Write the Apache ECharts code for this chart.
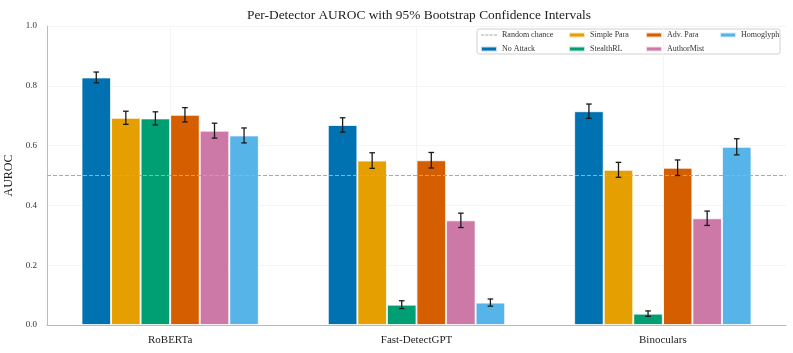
<!DOCTYPE html>
<html>
<head>
<meta charset="utf-8">
<script src="https://cdn.jsdelivr.net/npm/echarts@6/dist/echarts.min.js"></script>
<style>
  html, body { margin: 0; padding: 0; background: #fff; }
  #chart { width: 793px; height: 353px; }
</style>
</head>
<body>
<div id="chart"></div>
<script>
// detectors on the x axis
const detectors = ["RoBERTa", "Fast-DetectGPT", "Binoculars"];
const attacks = ["No Attack", "Simple Para", "StealthRL", "Adv. Para", "AuthorMist", "Homoglyph"];
const colors = ["#0072B2", "#E69F00", "#009E73", "#D55E00", "#CC79A7", "#56B4E9"];

// AUROC per attack (one value per detector)
const noAttack   = [0.828, 0.669, 0.715];
const simplePara = [0.693, 0.550, 0.519];
const stealthRL  = [0.691, 0.068, 0.038];
const advPara    = [0.703, 0.551, 0.526];
const authorMist = [0.650, 0.350, 0.357];
const homoglyph  = [0.634, 0.075, 0.596];

// 95% CI half widths
const errNoAttack   = [0.018, 0.024, 0.024];
const errSimplePara = [0.022, 0.026, 0.025];
const errStealthRL  = [0.022, 0.013, 0.009];
const errAdvPara    = [0.024, 0.026, 0.026];
const errAuthorMist = [0.025, 0.024, 0.024];
const errHomoglyph  = [0.025, 0.012, 0.027];

const randomChance = 0.5;
const yTicks = [0, 0.2, 0.4, 0.6, 0.8, 1.0];

const values = [noAttack, simplePara, stealthRL, advPara, authorMist, homoglyph];
const errs = [errNoAttack, errSimplePara, errStealthRL, errAdvPara, errAuthorMist, errHomoglyph];

const catGap = 0.28;
const font = "Liberation Serif";

let chart = echarts.init(document.getElementById("chart"));

let barSeries = attacks.map(function(name, i) {
  return {
    name: name,
    type: "bar",
    z: 2,
    barGap: "0%",
    barCategoryGap: "28%",
    itemStyle: {
      color: colors[i],
      borderColor: "rgba(255,255,255,0.75)",
      borderWidth: 1
    },
    data: values[i]
  };
});

// error bar data: [detectorIndex, attackIndex, low, high]
let errData = [];
attacks.forEach(function(a, i) {
  detectors.forEach(function(d, j) {
    errData.push([j, i, values[i][j] - errs[i][j], values[i][j] + errs[i][j]]);
  });
});

let errSeries = {
  type: "custom",
  name: "ci",
  z: 5,
  silent: true,
  encode: { x: 0, y: [2, 3] },
  data: errData,
  renderItem: function(params, api) {
    let cat = api.value(0);
    let s = api.value(1);
    let band = api.size([1, 0])[0];
    let barW = band * (1 - catGap) / attacks.length;
    let x = api.coord([cat, 0])[0] + (s - (attacks.length - 1) / 2) * barW;
    let yLo = api.coord([cat, api.value(2)])[1];
    let yHi = api.coord([cat, api.value(3)])[1];
    let cap = 2.8;
    let st = { stroke: "#1a1a1a", lineWidth: 1.3 };
    return {
      type: "group",
      children: [
        { type: "line", shape: { x1: x, y1: yLo, x2: x, y2: yHi }, style: st },
        { type: "line", shape: { x1: x - cap, y1: yLo, x2: x + cap, y2: yLo }, style: st },
        { type: "line", shape: { x1: x - cap, y1: yHi, x2: x + cap, y2: yHi }, style: st }
      ]
    };
  }
};

let chanceSeries = {
  name: "Random chance",
  type: "line",
  z: 1,
  symbol: "none",
  data: [],
  lineStyle: { color: "#aaaaaa", type: "dashed", width: 1 },
  itemStyle: { color: "#aaaaaa" },
  markLine: {
    silent: true,
    symbol: "none",
    label: { show: false },
    lineStyle: { color: "#aaaaaa", type: "dashed", width: 1 },
    data: [{ yAxis: randomChance }]
  }
};

// vertical light grid lines at category centres
let vGridSeries = {
  type: "line",
  name: "vgrid",
  z: 0,
  data: [],
  markLine: {
    silent: true,
    symbol: "none",
    label: { show: false },
    lineStyle: { color: "#f4f4f4", type: "solid", width: 1 },
    data: detectors.map(function(d) { return { xAxis: d }; })
  }
};

const dashIcon = "path://M0,0h3.2v1h-3.2zM4.3,0h3.2v1h-3.2zM8.6,0h3.2v1h-3.2zM12.9,0h3.1v1h-3.1z";

function legendCol(left, names) {
  return {
    orient: "vertical",
    left: left,
    top: 31,
    itemWidth: 16,
    itemHeight: 5,
    itemGap: 6,
    padding: 0,
    textStyle: { fontFamily: font, fontSize: 8, color: "#333" },
    data: names.map(function(n) {
      if (n === "Random chance") {
        return { name: n, icon: dashIcon, itemStyle: { color: "#aaaaaa" } };
      }
      return { name: n, icon: "rect" };
    })
  };
}

let option = {
  animation: false,
  textStyle: { fontFamily: font },
  title: {
    text: "Per-Detector AUROC with 95% Bootstrap Confidence Intervals",
    left: 414,
    textAlign: "center",
    top: 4,
    textStyle: { fontFamily: font, fontSize: 13.4, fontWeight: "normal", color: "#222" }
  },
  grid: { left: 47, right: 7, top: 26, bottom: 28, outerBoundsMode: "none", containLabel: false },
  legend: [
    legendCol(480, ["Random chance", "No Attack"]),
    legendCol(568, ["Simple Para", "StealthRL"]),
    legendCol(645, ["Adv. Para", "AuthorMist"]),
    legendCol(719, ["Homoglyph"])
  ],
  graphic: [
    {
      type: "rect",
      z: 3,
      silent: true,
      shape: { x: 477, y: 29, width: 303, height: 25, r: 2 },
      style: { fill: "rgba(255,255,255,0.85)", stroke: "#d0d0d0", lineWidth: 1 }
    }
  ],
  xAxis: {
    type: "category",
    data: detectors,
    axisLine: { lineStyle: { color: "#bbbbbb" } },
    axisTick: { show: false },
    axisLabel: { fontFamily: font, fontSize: 11, color: "#222", margin: 10 },
    splitLine: { show: false }
  },
  yAxis: {
    type: "value",
    min: yTicks[0],
    max: yTicks[yTicks.length - 1],
    interval: 0.2,
    name: "AUROC",
    nameLocation: "middle",
    nameGap: 30,
    nameTextStyle: { fontFamily: font, fontSize: 12, color: "#222" },
    axisLine: { show: true, lineStyle: { color: "#bbbbbb" } },
    axisTick: { show: false },
    axisLabel: {
      fontFamily: font, fontSize: 9, color: "#333", margin: 10,
      formatter: function(v) { return v.toFixed(1); }
    },
    splitLine: { lineStyle: { color: "#f4f4f4" } }
  },
  series: [vGridSeries, chanceSeries].concat(barSeries).concat([errSeries])
};

chart.setOption(option);
window.addEventListener("resize", function() {
  chart.resize();
});
</script>
</body>
</html>
